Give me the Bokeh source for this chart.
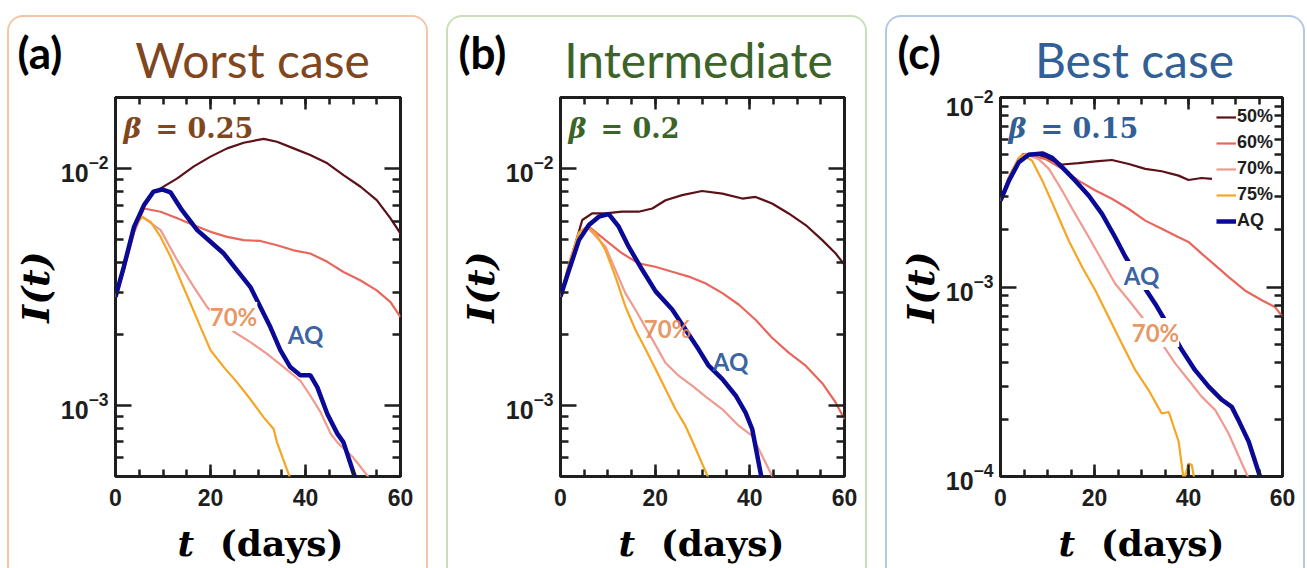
import math
from bokeh.plotting import figure
from bokeh.models import (Range1d, FixedTicker, LinearAxis, LogAxis, LogTicker, LogTickFormatter,
                          CustomJSTickFormatter, Label, Legend, LegendItem)
from bokeh.layouts import row, column
from bokeh.embed import file_html
from bokeh.resources import INLINE

# ---------------- data ----------------
X_MAJOR = [0, 20, 40, 60]
X_MINOR = [0, 5, 10, 15, 20, 25, 30, 35, 40, 45, 50, 55, 60]
Y_MAJOR_AB = [1e-3, 1e-2]
Y_MINOR_AB = [6e-4, 7e-4, 8e-4, 9e-4, 2e-3, 3e-3, 4e-3, 5e-3, 6e-3, 7e-3, 8e-3, 9e-3, 2e-2]
Y_MAJOR_C = [1e-4, 1e-3, 1e-2]
Y_MINOR_C = [2e-4, 3e-4, 4e-4, 5e-4, 6e-4, 7e-4, 8e-4, 9e-4, 2e-3, 3e-3, 4e-3, 5e-3, 6e-3, 7e-3, 8e-3, 9e-3]
SERIES = ["50%", "60%", "70%", "75%", "AQ"]

# Panel (a)  worst case, beta = 0.25
A_T50 = [0, 1.75, 3.9, 6, 8, 9.5, 13, 16.5, 20, 23.5, 27, 31.2, 34, 37.5, 41, 44.6, 48, 51.6, 55, 57.9, 60]
A_I50 = [2.87e-3, 3.80e-3, 5.62e-3, 6.92e-3, 7.94e-3, 8.26e-3, 9.10e-3, 1.023e-2, 1.125e-2, 1.219e-2, 1.288e-2,
         1.337e-2, 1.30e-2, 1.219e-2, 1.143e-2, 1.054e-2, 9.40e-3, 8.39e-3, 7.36e-3, 6.17e-3, 5.32e-3]
A_T60 = [0, 1.75, 3.9, 6, 9.5, 13, 16.5, 20, 23.5, 27, 30.5, 34, 37.5, 41, 44.6, 48, 51.6, 55, 57.9, 60]
A_I60 = [2.87e-3, 3.72e-3, 5.37e-3, 6.79e-3, 6.58e-3, 6.17e-3, 5.77e-3, 5.41e-3, 5.15e-3, 4.99e-3, 4.95e-3,
         4.75e-3, 4.52e-3, 4.38e-3, 4.04e-3, 3.66e-3, 3.37e-3, 3.06e-3, 2.73e-3, 2.36e-3]
A_T70 = [0, 1.75, 3.9, 5.6, 9.5, 13, 16.5, 19.3, 22, 25, 28.4, 31.9, 35.4, 38.9, 41, 43.2, 45.3, 46.7, 50, 53.5]
A_I70 = [2.87e-3, 3.80e-3, 5.62e-3, 6.27e-3, 5.50e-3, 4.10e-3, 3.16e-3, 2.60e-3, 2.29e-3, 2.04e-3, 1.85e-3,
         1.65e-3, 1.45e-3, 1.27e-3, 1.10e-3, 9.33e-4, 7.59e-4, 6.97e-4, 6.03e-4, 4.9e-4]
A_T75 = [0, 1.75, 3.9, 5.6, 7.4, 9.5, 11.6, 13.7, 15.8, 17.9, 20, 22.8, 25.6, 28.4, 31.2, 33.3, 34, 36.8]
A_I75 = [2.87e-3, 3.80e-3, 5.62e-3, 6.27e-3, 5.96e-3, 5.15e-3, 4.24e-3, 3.37e-3, 2.69e-3, 2.14e-3, 1.71e-3,
         1.45e-3, 1.25e-3, 1.06e-3, 8.89e-4, 7.94e-4, 6.97e-4, 4.9e-4]
A_TAQ = [0, 1.75, 3.9, 6, 8, 9.8, 11.6, 14, 17.2, 20, 22.8, 25.6, 28.4, 30.5, 32.6, 34.7, 36.8, 38.9, 41, 42.5,
         44.6, 46.7, 48, 50.5]
A_IAQ = [2.87e-3, 3.85e-3, 5.68e-3, 7.02e-3, 8.0e-3, 8.17e-3, 7.94e-3, 6.68e-3, 5.50e-3, 4.91e-3, 4.38e-3,
         3.72e-3, 3.16e-3, 2.60e-3, 2.14e-3, 1.71e-3, 1.45e-3, 1.34e-3, 1.34e-3, 1.19e-3, 9.18e-4, 7.59e-4,
         6.97e-4, 4.9e-4]

# Panel (b)  intermediate, beta = 0.2
B_T50 = [0, 2.5, 4.6, 6.7, 9.5, 13, 16.5, 19.4, 22.2, 25.7, 29.9, 34.2, 38.4, 41.2, 44.7, 48.2, 51.8, 55.3, 58.1, 60]
B_I50 = [2.88e-3, 4.37e-3, 6.07e-3, 6.47e-3, 6.47e-3, 6.58e-3, 6.58e-3, 6.79e-3, 7.36e-3, 7.73e-3, 8.05e-3,
         7.85e-3, 7.48e-3, 7.60e-3, 7.13e-3, 6.47e-3, 5.78e-3, 4.99e-3, 4.39e-3, 3.92e-3]
B_T60 = [0, 1.8, 3.9, 6, 9.5, 13, 16.5, 20, 23.6, 27.1, 30.6, 34.2, 37.7, 41.2, 44.7, 48.2, 51.8, 55.3, 58.1, 60]
B_I60 = [2.88e-3, 3.72e-3, 5.01e-3, 5.69e-3, 4.99e-3, 4.39e-3, 3.98e-3, 3.85e-3, 3.67e-3, 3.50e-3, 3.28e-3,
         2.98e-3, 2.66e-3, 2.30e-3, 1.93e-3, 1.67e-3, 1.47e-3, 1.24e-3, 1.03e-3, 8.73e-4]
B_T70 = [0, 1.8, 3.9, 5.6, 9.5, 11.6, 13.7, 15.8, 19.4, 22.2, 25, 27.8, 30.6, 34.2, 37.7, 40.5, 45]
B_I70 = [2.88e-3, 3.98e-3, 5.37e-3, 5.69e-3, 4.68e-3, 3.73e-3, 2.98e-3, 2.54e-3, 1.90e-3, 1.51e-3, 1.33e-3,
         1.21e-3, 1.09e-3, 9.62e-4, 8.18e-4, 7.43e-4, 4.9e-4]
B_T75 = [0, 1.8, 3.9, 5.6, 7.4, 9.5, 11.6, 13.7, 15.8, 18, 20.1, 22.2, 24.3, 26.4, 27.8, 31.3]
B_I75 = [2.88e-3, 3.98e-3, 5.37e-3, 5.69e-3, 5.33e-3, 4.53e-3, 3.50e-3, 2.62e-3, 2.09e-3, 1.72e-3, 1.42e-3,
         1.17e-3, 9.62e-4, 8.18e-4, 7.10e-4, 4.9e-4]
B_TAQ = [0, 1.8, 3.9, 6, 8.1, 10.2, 12.3, 14.4, 17.3, 20.1, 23.6, 26.4, 29.2, 31.3, 34.2, 37, 39.1, 40.5, 42.5]
B_IAQ = [2.88e-3, 3.73e-3, 4.99e-3, 5.78e-3, 6.27e-3, 6.43e-3, 5.69e-3, 4.68e-3, 3.73e-3, 3.03e-3, 2.54e-3,
         2.09e-3, 1.72e-3, 1.47e-3, 1.29e-3, 1.10e-3, 9.31e-4, 7.94e-4, 4.9e-4]

# Panel (c)  best case, beta = 0.15
C_T50 = [0, 2.5, 4.6, 7.4, 10.3, 13.1, 16.6, 20.2, 23.7, 27.3, 30.8, 34.3, 37.9, 40, 42.8, 45]
C_I50 = [2.86e-3, 4.11e-3, 4.99e-3, 5.07e-3, 4.73e-3, 4.43e-3, 4.50e-3, 4.60e-3, 4.68e-3, 4.46e-3, 4.20e-3,
         4.08e-3, 3.87e-3, 3.67e-3, 3.76e-3, 3.72e-3]
C_T60 = [0, 1.8, 3.9, 5.3, 9.6, 13.1, 16.6, 20.2, 23.7, 27.3, 30.8, 34.3, 37.9, 40, 42.8, 45.7, 48.5, 52, 55.6,
         58.4, 60]
C_I60 = [2.86e-3, 3.80e-3, 4.79e-3, 5.04e-3, 4.73e-3, 4.20e-3, 3.64e-3, 3.23e-3, 2.92e-3, 2.58e-3, 2.24e-3,
         2.03e-3, 1.83e-3, 1.73e-3, 1.50e-3, 1.30e-3, 1.13e-3, 9.59e-4, 8.51e-4, 7.85e-4, 6.95e-4]
C_T70 = [0, 1.8, 3.9, 5.3, 8.1, 10.3, 13.1, 15.9, 18.8, 21.6, 24.4, 27.3, 30.1, 34.3, 37.2, 40, 42.8, 45.7, 48.5, 53]
C_I70 = [2.86e-3, 3.80e-3, 4.79e-3, 5.04e-3, 4.73e-3, 4.20e-3, 3.23e-3, 2.43e-3, 1.83e-3, 1.38e-3, 1.04e-3,
         8.51e-4, 6.95e-4, 5.04e-4, 3.94e-4, 3.23e-4, 2.64e-4, 2.24e-4, 1.69e-4, 9.5e-5]
C_T75 = [0, 1.8, 3.9, 4.6, 6.7, 8.9, 11.7, 14.5, 17.4, 20.2, 23, 25.8, 28.7, 31.5, 34.3, 35.8, 37.9, 39, 40,
         40.7, 41.5]
C_I75 = [2.86e-3, 3.80e-3, 4.79e-3, 4.99e-3, 4.65e-3, 3.64e-3, 2.54e-3, 1.76e-3, 1.27e-3, 9.59e-4, 6.95e-4,
         5.04e-4, 3.64e-4, 2.86e-4, 2.15e-4, 2.19e-4, 1.53e-4, 9.5e-5, 1.17e-4, 1.15e-4, 8.9e-5]
C_TAQ = [0, 1.8, 3.9, 6, 8.9, 11, 13.1, 15.9, 18.8, 21.6, 24.4, 26.6, 30.1, 32.9, 35.8, 38.6, 41.4, 44.3, 47.1,
         49.2, 50.6, 52.8, 55.5]
C_IAQ = [2.86e-3, 3.64e-3, 4.55e-3, 4.99e-3, 5.07e-3, 4.80e-3, 4.29e-3, 3.64e-3, 3.03e-3, 2.43e-3, 1.83e-3,
         1.44e-3, 1.04e-3, 8.17e-4, 6.17e-4, 4.65e-4, 3.64e-4, 2.98e-4, 2.54e-4, 2.33e-4, 1.99e-4, 1.53e-4, 9.5e-5]

# ---------------- styling ----------------
LINE_COLORS = {"50%": "#5c1018", "60%": "#e8675c", "70%": "#f09a90", "75%": "#f5a623", "AQ": "#0a0a96"}
LINE_WIDTHS = {"50%": 2.2, "60%": 2.2, "70%": 2.2, "75%": 2.2, "AQ": 4.5}
DARK = "#1e1e1e"

HEAD_H, PLOT_H, FOOT_H = 72, 431, 48

PANELS = [
    dict(tag="(a)", title="Worst case", beta="0.25", tcol="#80461e", border="#f4c6a6",
         yr=(5e-4, 2e-2), ymaj=Y_MAJOR_AB, ymin=Y_MINOR_AB, width=417, left=106, right=26,
         data={"50%": (A_T50, A_I50), "60%": (A_T60, A_I60), "70%": (A_T70, A_I70),
               "75%": (A_T75, A_I75), "AQ": (A_TAQ, A_IAQ)},
         lab70=(118, 160), labAQ=(190, 142), bg=True, title_x=243, tag_x=8,
         t_x=168, days_x=334, legend=False, mleft=7),
    dict(tag="(b)", title="Intermediate", beta="0.2", tcol="#3c6428", border="#c8e0b8",
         yr=(5e-4, 2e-2), ymaj=Y_MAJOR_AB, ymin=Y_MINOR_AB, width=417, left=112, right=21,
         data={"50%": (B_T50, B_I50), "60%": (B_T60, B_I60), "70%": (B_T70, B_I70),
               "75%": (B_T75, B_I75), "AQ": (B_TAQ, B_IAQ)},
         lab70=(107, 148), labAQ=(170, 115), bg=False, title_x=250, tag_x=10,
         t_x=170, days_x=336, legend=False, mleft=0),
    dict(tag="(c)", title="Best case", beta="0.15", tcol="#325f96", border="#b4c8e4",
         yr=(1e-4, 1e-2), ymaj=Y_MAJOR_C, ymin=Y_MINOR_C, width=416, left=113, right=21,
         data={"50%": (C_T50, C_I50), "60%": (C_T60, C_I60), "70%": (C_T70, C_I70),
               "75%": (C_T75, C_I75), "AQ": (C_TAQ, C_IAQ)},
         lab70=(155, 144), labAQ=(141, 201), bg=True, title_x=247, tag_x=10,
         t_x=171, days_x=337, legend=True, mleft=0),
]


def style_axis(ax, is_y):
    ax.axis_line_color = None
    ax.major_tick_in = 16 if is_y else 12
    ax.major_tick_out = 0
    ax.minor_tick_in = 8 if is_y else 7
    ax.minor_tick_out = 0
    ax.major_tick_line_color = DARK
    ax.minor_tick_line_color = DARK
    ax.major_tick_line_width = 2.5
    ax.minor_tick_line_width = 2.5
    ax.major_label_text_font = "Liberation Sans"
    ax.major_label_text_font_style = "bold"
    ax.major_label_text_color = DARK


def blank_axis(ax):
    ax.formatter = CustomJSTickFormatter(code="return ''")
    ax.major_label_text_font_size = "0px"
    ax.major_label_standoff = 0


def add_label(p, text, x, y, font, size, style, color, align="left", baseline="middle",
              angle=0.0, bg=None, alpha=1.0):
    lab = Label(x=x, y=y, x_units="screen", y_units="screen", text=text, text_font=font,
                text_font_size=size, text_font_style=style, text_color=color, text_align=align,
                text_baseline=baseline, angle=angle, text_alpha=alpha)
    if bg is not None:
        lab.background_fill_color = bg
        lab.background_fill_alpha = 1.0
    p.add_layout(lab)


def text_canvas(width, height):
    c = figure(width=width, height=height, x_range=Range1d(0, width), y_range=Range1d(0, height),
               output_backend="svg", toolbar_location=None, min_border=0,
               x_axis_location=None, y_axis_location=None)
    if "frame_align" in c.properties():
        c.frame_align = False
    c.outline_line_color = None
    c.background_fill_color = None
    c.border_fill_color = None
    c.xgrid.visible = False
    c.ygrid.visible = False
    return c


def make_panel(cfg):
    W = cfg["width"]
    # header with panel tag and title
    head = text_canvas(W, HEAD_H)
    add_label(head, cfg["tag"], cfg["tag_x"], 38, "Lato", "44px", "bold", "black")
    add_label(head, cfg["title"], cfg["title_x"], 30, "Lato", "48px", "normal", cfg["tcol"], align="center")

    # main plot
    p = figure(width=W, height=PLOT_H, x_range=Range1d(0, 60),
               y_range=Range1d(*cfg["yr"]), y_axis_type="log",
               output_backend="svg", toolbar_location=None,
               min_border_left=cfg["left"], min_border_right=cfg["right"],
               min_border_top=8, min_border_bottom=44)
    p.border_fill_color = None
    p.background_fill_color = "white"
    p.outline_line_color = DARK
    p.outline_line_width = 3
    p.xgrid.visible = False
    p.ygrid.visible = False

    p.xaxis.ticker = FixedTicker(ticks=X_MAJOR, minor_ticks=X_MINOR)
    style_axis(p.xaxis[0], False)
    p.xaxis.major_label_text_font_size = "23px"
    p.xaxis.major_label_standoff = 12

    p.yaxis.ticker = FixedTicker(ticks=cfg["ymaj"], minor_ticks=cfg["ymin"])
    p.yaxis.formatter = LogTickFormatter(ticker=LogTicker())
    style_axis(p.yaxis[0], True)
    p.yaxis.major_label_text_font_size = "25px"
    p.yaxis.major_label_standoff = 7
    p.yaxis.axis_label = "I(t)"
    p.yaxis.axis_label_text_font = "DejaVu Serif"
    p.yaxis.axis_label_text_font_style = "bold italic"
    p.yaxis.axis_label_text_font_size = "38px"
    p.yaxis.axis_label_text_color = "black"
    p.yaxis.axis_label_standoff = 0

    top = LinearAxis(ticker=FixedTicker(ticks=X_MAJOR, minor_ticks=X_MINOR))
    style_axis(top, False)
    blank_axis(top)
    p.add_layout(top, "above")
    right = LogAxis(ticker=FixedTicker(ticks=cfg["ymaj"], minor_ticks=cfg["ymin"]))
    style_axis(right, True)
    blank_axis(right)
    p.add_layout(right, "right")

    rends = {}
    for name in SERIES:
        t, v = cfg["data"][name]
        rends[name] = p.line(t, v, line_color=LINE_COLORS[name], line_width=LINE_WIDTHS[name])

    if cfg["legend"]:
        items = [LegendItem(label=n, renderers=[rends[n]]) for n in SERIES]
        leg = Legend(items=items, location="top_right", margin=9, padding=0, spacing=5,
                     glyph_width=20, glyph_height=20, label_height=20, label_standoff=1,
                     label_text_font="Liberation Sans", label_text_font_style="bold",
                     label_text_font_size="18px", label_text_color=DARK,
                     background_fill_color="white", background_fill_alpha=1.0,
                     border_line_color=None)
        p.add_layout(leg)

    add_label(p, "\u03b2", 8, 348, "DejaVu Serif", "27px", "bold italic", cfg["tcol"])
    add_label(p, "= " + cfg["beta"], 40, 348, "DejaVu Serif", "27px", "bold", cfg["tcol"])
    bg = "white" if cfg["bg"] else None
    add_label(p, "70%", cfg["lab70"][0], cfg["lab70"][1], "Lato", "24px", "bold", "#e48a52",
              align="center", bg=bg, alpha=0.9)
    add_label(p, "AQ", cfg["labAQ"][0], cfg["labAQ"][1], "Lato", "24px", "bold", "#2f5a9c",
              align="center", bg=bg, alpha=0.95)

    # footer with x-axis title
    foot = text_canvas(W, FOOT_H)
    add_label(foot, "t", cfg["t_x"], 26, "DejaVu Serif", "36px", "bold italic", "black")
    add_label(foot, "(days)", cfg["days_x"], 26, "DejaVu Serif", "36px", "bold", "black", align="right")

    col = column(head, p, foot, spacing=0)
    st = {"border": "2px solid " + cfg["border"], "border-bottom": "none",
          "border-radius": "16px 16px 0 0", "margin-top": "15px"}
    if cfg["mleft"]:
        st["margin-left"] = "%dpx" % cfg["mleft"]
    col.styles = st
    return col


panels = [make_panel(c) for c in PANELS]
layout = row(*panels, spacing=18)

with open("out.html", "w") as f:
    f.write(file_html(layout, INLINE))
